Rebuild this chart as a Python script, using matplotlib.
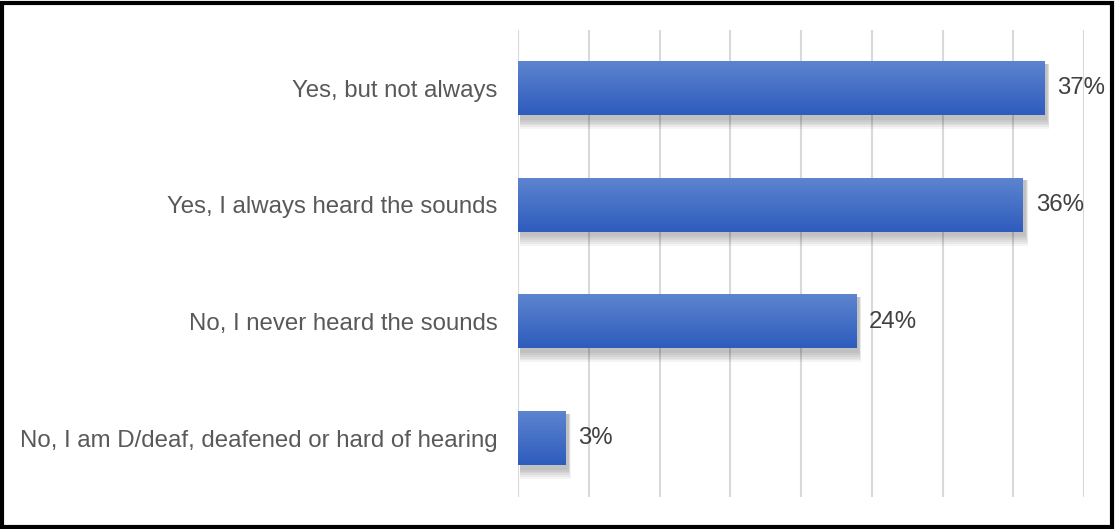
import numpy as np
import matplotlib.pyplot as plt
from matplotlib.patches import Rectangle

# datos de la encuesta
categorias = [
    "Yes, but not always",
    "Yes, I always heard the sounds",
    "No, I never heard the sounds",
    "No, I am D/deaf, deafened or hard of hearing",
]
valores = [37.2, 35.7, 23.9, 3.35]
etiquetas = ["37%", "36%", "24%", "3%"]

plt.rcParams['font.family'] = ['Liberation Sans', 'DejaVu Sans']

fig = plt.figure(figsize=(11.15, 5.29), dpi=100)
ax = fig.add_axes([518.3 / 1115, 32.5 / 529, 565.7 / 1115, 466.6 / 529])

n = len(categorias)
y = np.arange(n)
alto = 0.46

# lineas de la grilla
for xv in np.arange(0, 41, 5):
    ax.axvline(xv, color='#d9d9d9', lw=1.5, zorder=0)

# gradiente de las barras
grad = np.linspace(0, 1, 100).reshape(-1, 1)
c_top = np.array([0x5d, 0x84, 0xcf]) / 255
c_bot = np.array([0x2e, 0x5c, 0xbd]) / 255
img = c_top[None, None, :] * (1 - grad[:, :, None]) + c_bot[None, None, :] * grad[:, :, None]

for i, v in enumerate(valores):
    # sombra
    for k in range(6):
        d = 0.06 + k * 0.045
        ax.add_patch(Rectangle((0.15, i - alto / 2 + 0.02), v + 0.05 + k * 0.03,
                               alto + d * 0.35, color='black', alpha=0.045,
                               lw=0, zorder=1))
    ax.imshow(img, extent=(0, v, i + alto / 2, i - alto / 2), aspect='auto',
              zorder=2, interpolation='bilinear')
    ax.text(v + 0.9, i, etiquetas[i], va='center', ha='left',
            fontsize=17.3, color='#404040')

ax.set_xlim(0, 40)
ax.set_ylim(n - 0.5, -0.5)
ax.set_yticks(y)
ax.set_yticklabels(categorias, fontsize=17.3, color='#595959')
ax.tick_params(axis='y', length=0, pad=15)
ax.set_xticks([])
for s in ax.spines.values():
    s.set_visible(False)

# marco negro exterior
fig.patches.append(Rectangle((0.002, 0.003), 0.995, 0.992, transform=fig.transFigure,
                             fill=False, edgecolor='black', lw=3))

fig.savefig('out.png', dpi=100)
